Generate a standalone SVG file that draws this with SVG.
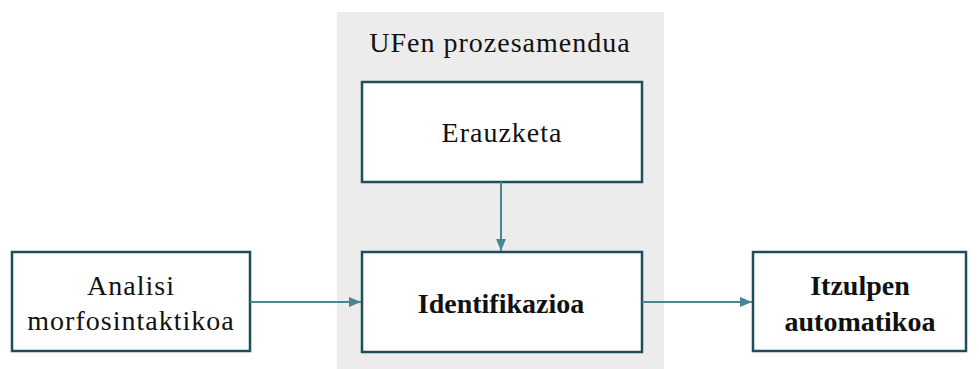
<svg xmlns="http://www.w3.org/2000/svg" width="979" height="369" viewBox="0 0 979 369">
  <defs>
    <marker id="arrow" viewBox="0 0 12 12" refX="12" refY="6" markerWidth="12" markerHeight="12" markerUnits="userSpaceOnUse" orient="auto">
      <path d="M0,1 L12,6 L0,11 z" fill="#4a8594"/>
    </marker>
  </defs>
  <style>
    .box { fill: #ffffff; stroke: #1d4f5b; stroke-width: 2.5; }
    .label { font-family: "Liberation Serif", serif; font-size: 28px; fill: #111111; text-anchor: middle; letter-spacing: 1px; }
    .bold { font-weight: bold; letter-spacing: 0px; }
    .edge { stroke: #4a8594; stroke-width: 2; fill: none; marker-end: url(#arrow); }
  </style>
  <rect x="337" y="12" width="327" height="357" fill="#ececec"/>
  <text class="label" x="500" y="52">UFen prozesamendua</text>

  <g id="erauzketa">
    <rect class="box" x="362" y="82" width="280" height="100"/>
    <text class="label" x="502" y="142">Erauzketa</text>
  </g>
  <g id="identifikazioa">
    <rect class="box" x="362" y="252" width="280" height="100"/>
    <text class="label bold" x="501" y="313">Identifikazioa</text>
  </g>
  <g id="analisi">
    <rect class="box" x="12" y="252" width="238" height="99"/>
    <text class="label" x="131" y="295">Analisi</text>
    <text class="label" x="131" y="330">morfosintaktikoa</text>
  </g>
  <g id="itzulpen">
    <rect class="box" x="753" y="252" width="213" height="99"/>
    <text class="label bold" x="860" y="295">Itzulpen</text>
    <text class="label bold" x="860" y="331">automatikoa</text>
  </g>

  <g id="connectors">
    <line class="edge" x1="501" y1="182" x2="501" y2="251"/>
    <line class="edge" x1="250" y1="302" x2="361" y2="302"/>
    <line class="edge" x1="642" y1="302" x2="752" y2="302"/>
  </g>
</svg>
